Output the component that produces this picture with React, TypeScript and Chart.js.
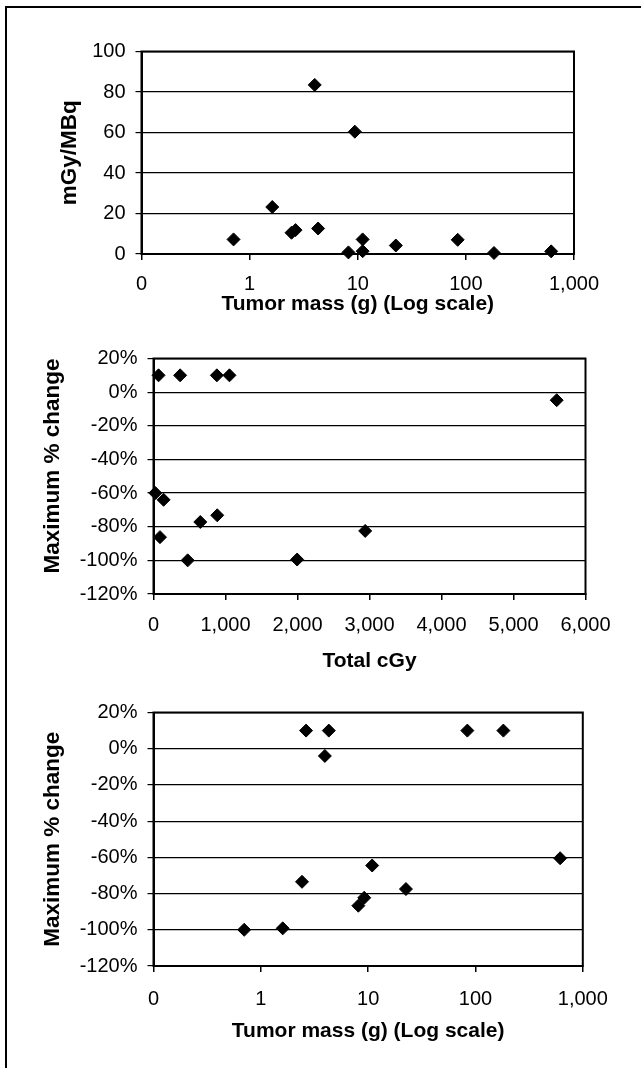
import React, { useEffect, useRef } from "react";
import { Chart, registerables } from "chart.js";

Chart.register(...registerables);

// ---- Tick values and labels ----
const massTickValues = [0.1, 1, 10, 100, 1000];
const massTickLabels = ["0", "1", "10", "100", "1,000"];
const doseTickValues = [0, 1000, 2000, 3000, 4000, 5000, 6000];
const doseTickLabels = ["0", "1,000", "2,000", "3,000", "4,000", "5,000", "6,000"];
const mgyTickValues = [0, 20, 40, 60, 80, 100];
const mgyTickLabels = ["0", "20", "40", "60", "80", "100"];
const pctTickValues = [-120, -100, -80, -60, -40, -20, 0, 20];
const pctTickLabels = ["-120%", "-100%", "-80%", "-60%", "-40%", "-20%", "0%", "20%"];

// ---- Chart 1: mGy/MBq vs tumor mass ----
const chart1Mass = [0.71, 1.62, 2.44, 2.66, 4.0, 4.3, 9.4, 8.2, 11.1, 11.1, 22.5, 84, 182, 615];
const chart1MgyPerMBq = [7.2, 23.2, 10.5, 11.8, 83.5, 12.6, 60.4, 0.8, 7.2, 1.4, 4.2, 7, 0.5, 1.3];

// ---- Chart 2: maximum % change vs total cGy ----
const chart2TotalCGy = [70, 370, 880, 1055, 5600, 25, 140, 650, 885, 90, 475, 1995, 2940];
const chart2Change = [10, 10, 10, 10, -4.8, -60, -64, -77.2, -73.2, -86.2, -100, -99.5, -82.5];

// ---- Chart 3: maximum % change vs tumor mass ----
const chart3Mass = [2.64, 4.3, 3.95, 84, 182, 615, 10.9, 2.42, 22.5, 9.2, 8.1, 0.7, 1.6];
const chart3Change = [10, 10, -4, 10, 10, -60.5, -64.5, -73.5, -77.5, -82.3, -86.7, -100, -99.2];

const FONT = "'Liberation Sans', Arial, Helvetica, sans-serif";

type Spec = {
  top: number;
  height: number;
  xs: number[];
  ys: number[];
  xType: "linear" | "logarithmic";
  xTicks: number[];
  xLabels: string[];
  yTicks: number[];
  yLabels: string[];
  xTitle: string;
  yTitle: string;
  yTitleAlign: "start" | "center" | "end";
  padTop: number;
  padRight: number;
  yWidth: number;
  xHeight: number;
  xTitlePadBottom: number;
  yTitlePadTop: number;
  xTickPad: number;
};

const plotFrame = {
  id: "plotFrame",
  beforeDatasetsDraw(chart: any) {
    const { ctx, chartArea } = chart;
    const { left, top, right, bottom } = chartArea;
    ctx.save();
    ctx.strokeStyle = "#000";
    ctx.lineWidth = 2;
    ctx.strokeRect(left, top, right - left, bottom - top);
    ctx.restore();
  },
};

function buildConfig(s: Spec): any {
  const points = s.xs.map((x, i) => ({ x, y: s.ys[i] }));
  return {
    type: "scatter",
    data: {
      datasets: [
        {
          data: points,
          pointStyle: "rectRot",
          pointRadius: 6.5,
          pointHoverRadius: 6.5,
          backgroundColor: "#000",
          borderColor: "#000",
          borderWidth: 1,
          showLine: false,
          clip: false,
        },
      ],
    },
    options: {
      animation: false,
      responsive: false,
      maintainAspectRatio: false,
      events: [],
      layout: { padding: { left: 0, top: s.padTop, right: s.padRight, bottom: 0 } },
      plugins: { legend: { display: false }, tooltip: { enabled: false } },
      scales: {
        x: {
          type: s.xType,
          position: "bottom",
          min: s.xTicks[0],
          max: s.xTicks[s.xTicks.length - 1],
          afterBuildTicks: (scale: any) => {
            scale.ticks = s.xTicks.map((v) => ({ value: v }));
          },
          afterFit: (scale: any) => {
            scale.height = s.xHeight;
          },
          ticks: {
            autoSkip: false,
            maxRotation: 0,
            minRotation: 0,
            padding: s.xTickPad,
            color: "#000",
            font: { family: FONT, size: 20 },
            callback: (v: number) => {
              const i = s.xTicks.indexOf(v);
              return i >= 0 ? s.xLabels[i] : "";
            },
          },
          grid: {
            display: true,
            drawOnChartArea: false,
            drawTicks: true,
            tickLength: 6,
            color: "#000",
            lineWidth: 1.5,
          },
          border: { display: true, color: "#000", width: 2 },
          title: {
            display: true,
            text: s.xTitle,
            color: "#000",
            font: { family: FONT, size: 21, weight: "bold" },
            padding: { top: 0, bottom: s.xTitlePadBottom },
          },
        },
        y: {
          type: "linear",
          position: "left",
          min: s.yTicks[0],
          max: s.yTicks[s.yTicks.length - 1],
          afterBuildTicks: (scale: any) => {
            scale.ticks = s.yTicks.map((v) => ({ value: v }));
          },
          afterFit: (scale: any) => {
            scale.width = s.yWidth;
          },
          ticks: {
            autoSkip: false,
            padding: 10,
            color: "#000",
            font: { family: FONT, size: 20 },
            callback: (v: number) => {
              const i = s.yTicks.indexOf(v);
              return i >= 0 ? s.yLabels[i] : "";
            },
          },
          grid: {
            display: true,
            drawOnChartArea: true,
            drawTicks: true,
            tickLength: 6,
            color: "#000",
            lineWidth: 1.2,
          },
          border: { display: true, color: "#000", width: 2 },
          title: {
            display: true,
            text: s.yTitle,
            align: s.yTitleAlign,
            color: "#000",
            font: { family: FONT, size: 22.5, weight: "bold" },
            padding: { top: s.yTitlePadTop, bottom: 0 },
          },
        },
      },
    },
    plugins: [plotFrame],
  };
}

const specs: Spec[] = [
  {
    top: 0,
    height: 324,
    xs: chart1Mass,
    ys: chart1MgyPerMBq,
    xType: "logarithmic",
    xTicks: massTickValues,
    xLabels: massTickLabels,
    yTicks: mgyTickValues,
    yLabels: mgyTickLabels,
    xTitle: "Tumor mass (g) (Log scale)",
    yTitle: "mGy/MBq",
    yTitleAlign: "center",
    padTop: 51.5,
    padRight: 67,
    yWidth: 141.5,
    xHeight: 70,
    xTitlePadBottom: 7.4,
    yTitlePadTop: 56,
    xTickPad: 12,
  },
  {
    top: 330,
    height: 350,
    xs: chart2TotalCGy,
    ys: chart2Change,
    xType: "linear",
    xTicks: doseTickValues,
    xLabels: doseTickLabels,
    yTicks: pctTickValues,
    yLabels: pctTickLabels,
    xTitle: "Total cGy",
    yTitle: "Maximum % change",
    yTitleAlign: "end",
    padTop: 28.5,
    padRight: 55.5,
    yWidth: 153.5,
    xHeight: 86,
    xTitlePadBottom: 5.7,
    yTitlePadTop: 39.5,
    xTickPad: 13,
  },
  {
    top: 690,
    height: 370,
    xs: chart3Mass,
    ys: chart3Change,
    xType: "logarithmic",
    xTicks: massTickValues,
    xLabels: massTickLabels,
    yTicks: pctTickValues,
    yLabels: pctTickLabels,
    xTitle: "Tumor mass (g) (Log scale)",
    yTitle: "Maximum % change",
    yTitleAlign: "center",
    padTop: 22.5,
    padRight: 58.2,
    yWidth: 153.5,
    xHeight: 94,
    xTitlePadBottom: 16.4,
    yTitlePadTop: 39.5,
    xTickPad: 15,
  },
];

function ScatterPanel({ spec }: { spec: Spec }) {
  const ref = useRef<HTMLCanvasElement | null>(null);
  useEffect(() => {
    if (!ref.current) return;
    const chart = new Chart(ref.current, buildConfig(spec));
    return () => chart.destroy();
  }, [spec]);
  return (
    <canvas
      ref={ref}
      width={641}
      height={spec.height}
      style={{
        position: "absolute",
        left: 0,
        top: spec.top,
        width: 641,
        height: spec.height,
        display: "block",
      }}
    />
  );
}

export default function App() {
  return (
    <div
      style={{
        position: "absolute",
        left: 0,
        top: 0,
        width: 641,
        height: 1068,
        overflow: "hidden",
        background: "#fff",
      }}
    >
      <div
        style={{
          position: "absolute",
          left: 5,
          top: 6,
          width: 700,
          height: 1100,
          borderLeft: "2px solid #000",
          borderTop: "2px solid #000",
          boxSizing: "border-box",
        }}
      />
      {specs.map((s, i) => (
        <ScatterPanel key={i} spec={s} />
      ))}
    </div>
  );
}
